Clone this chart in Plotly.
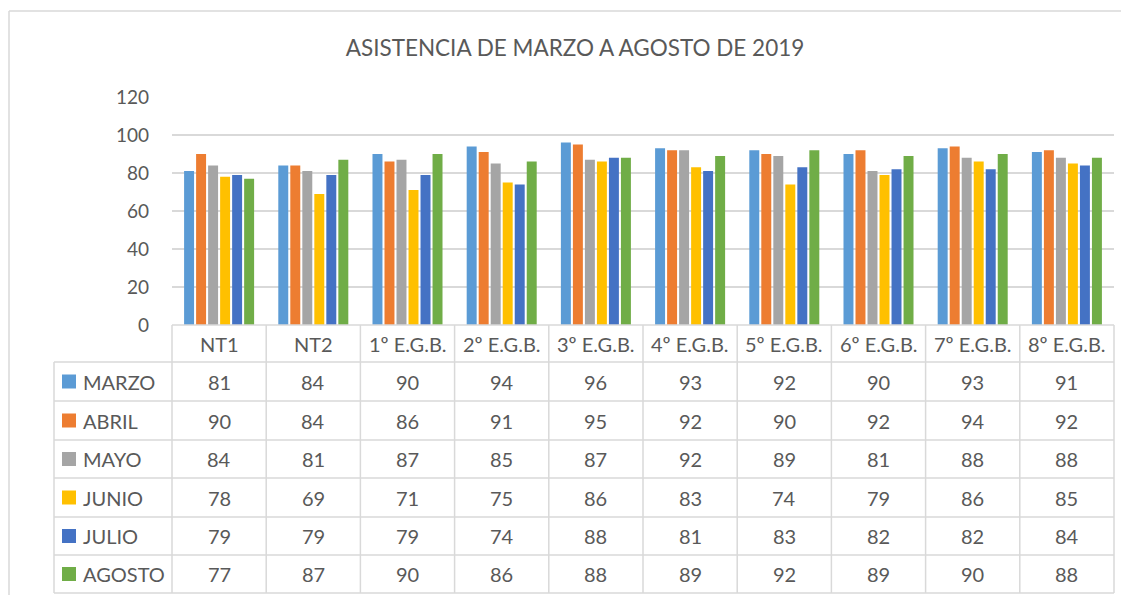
import plotly.graph_objects as go

categories = ["NT1", "NT2", "1º E.G.B.", "2º E.G.B.", "3º E.G.B.", "4º E.G.B.",
              "5º E.G.B.", "6º E.G.B.", "7º E.G.B.", "8º E.G.B."]
months = ["MARZO", "ABRIL", "MAYO", "JUNIO", "JULIO", "AGOSTO"]
marzo = [81, 84, 90, 94, 96, 93, 92, 90, 93, 91]
abril = [90, 84, 86, 91, 95, 92, 90, 92, 94, 92]
mayo = [84, 81, 87, 85, 87, 92, 89, 81, 88, 88]
junio = [78, 69, 71, 75, 86, 83, 74, 79, 86, 85]
julio = [79, 79, 79, 74, 88, 81, 83, 82, 82, 84]
agosto = [77, 87, 90, 86, 88, 89, 92, 89, 90, 88]
series = [marzo, abril, mayo, junio, julio, agosto]
colors = ["#5B9BD5", "#ED7D31", "#A5A5A5", "#FFC000", "#4472C4", "#70AD47"]
y_ticks = [0, 20, 40, 60, 80, 100, 120]

OFF = 8  # page body margin
W, H = 1129 - OFF, 595 - OFF
# plot area in page pixels
L, R, T, B = 172, 1114, 97, 325
TXT = "#595959"
GRID = "#D9D9D9"
FONT = "Lato"

def px(x):
    return (x - L) / (R - L)

def py(y):
    return (B - y) / (B - T)

fig = go.Figure()
for name, vals, c in zip(months, series, colors):
    fig.add_trace(go.Bar(x=categories, y=vals, name=name, marker_color=c,
                         marker_line_width=0, showlegend=False))

shapes = []
# chart frame
shapes.append(dict(type="line", xref="paper", yref="paper", x0=px(9), x1=px(1140), y0=py(11), y1=py(11),
                   line=dict(color=GRID, width=1.5)))
shapes.append(dict(type="line", xref="paper", yref="paper", x0=px(9), x1=px(9), y0=py(11), y1=py(600),
                   line=dict(color=GRID, width=1.5)))

ncol = len(categories)
colw = (R - L) / ncol
row_edges = [325, 362, 401, 440, 478, 517, 555, 593]
leg_left = 54
for i in range(ncol + 1):
    xx = L + i * colw
    shapes.append(dict(type="line", xref="paper", yref="paper", x0=px(xx), x1=px(xx),
                       y0=py(row_edges[0]), y1=py(row_edges[-1]), line=dict(color=GRID, width=1.5)))
shapes.append(dict(type="line", xref="paper", yref="paper", x0=px(leg_left), x1=px(leg_left),
                   y0=py(row_edges[1]), y1=py(row_edges[-1]), line=dict(color=GRID, width=1.5)))
for j, ye in enumerate(row_edges):
    x0 = L if j == 0 else leg_left
    shapes.append(dict(type="line", xref="paper", yref="paper", x0=px(x0), x1=px(R),
                       y0=py(ye), y1=py(ye), line=dict(color=GRID, width=1.5)))

annotations = []
hc = (row_edges[0] + row_edges[1]) / 2
for i, cat in enumerate(categories):
    annotations.append(dict(xref="paper", yref="paper", x=px(L + (i + 0.5) * colw), y=py(hc),
                            text=cat, showarrow=False, font=dict(family=FONT, size=20, color=TXT),
                            xanchor="center", yanchor="middle"))
for r, (name, vals, c) in enumerate(zip(months, series, colors)):
    yc = (row_edges[r + 1] + row_edges[r + 2]) / 2
    shapes.append(dict(type="rect", xref="paper", yref="paper", x0=px(62), x1=px(76),
                       y0=py(yc - 7), y1=py(yc + 7), fillcolor=c, line=dict(width=0)))
    annotations.append(dict(xref="paper", yref="paper", x=px(81), y=py(yc), text=name, showarrow=False,
                            font=dict(family=FONT, size=20, color=TXT), xanchor="left", yanchor="middle"))
    for i, v in enumerate(vals):
        annotations.append(dict(xref="paper", yref="paper", x=px(L + (i + 0.5) * colw), y=py(yc),
                                text=str(v), showarrow=False, font=dict(family=FONT, size=20, color=TXT),
                                xanchor="center", yanchor="middle"))

fig.update_layout(
    width=W, height=H,
    margin=dict(l=L - OFF, r=1129 - R, t=T - OFF, b=595 - B, pad=0),
    paper_bgcolor="white", plot_bgcolor="white",
    title=dict(text="ASISTENCIA DE MARZO A AGOSTO DE 2019", x=(575 - OFF) / W, xanchor="center",
               y=1 - (48 - OFF) / H, yanchor="middle", font=dict(family=FONT, size=22.5, color=TXT)),
    barmode="group", bargap=0.235, bargroupgap=0.17,
    xaxis=dict(showticklabels=False, showgrid=False, showline=False, zeroline=False, ticks=""),
    yaxis=dict(range=[0, 120], tickvals=y_ticks, showgrid=True, gridcolor=GRID, gridwidth=1.5,
               zeroline=False, showline=False, ticks="", ticklabelstandoff=22,
               tickfont=dict(family=FONT, size=19, color=TXT)),
    shapes=shapes, annotations=annotations,
)

fig.write_html("out.html")
